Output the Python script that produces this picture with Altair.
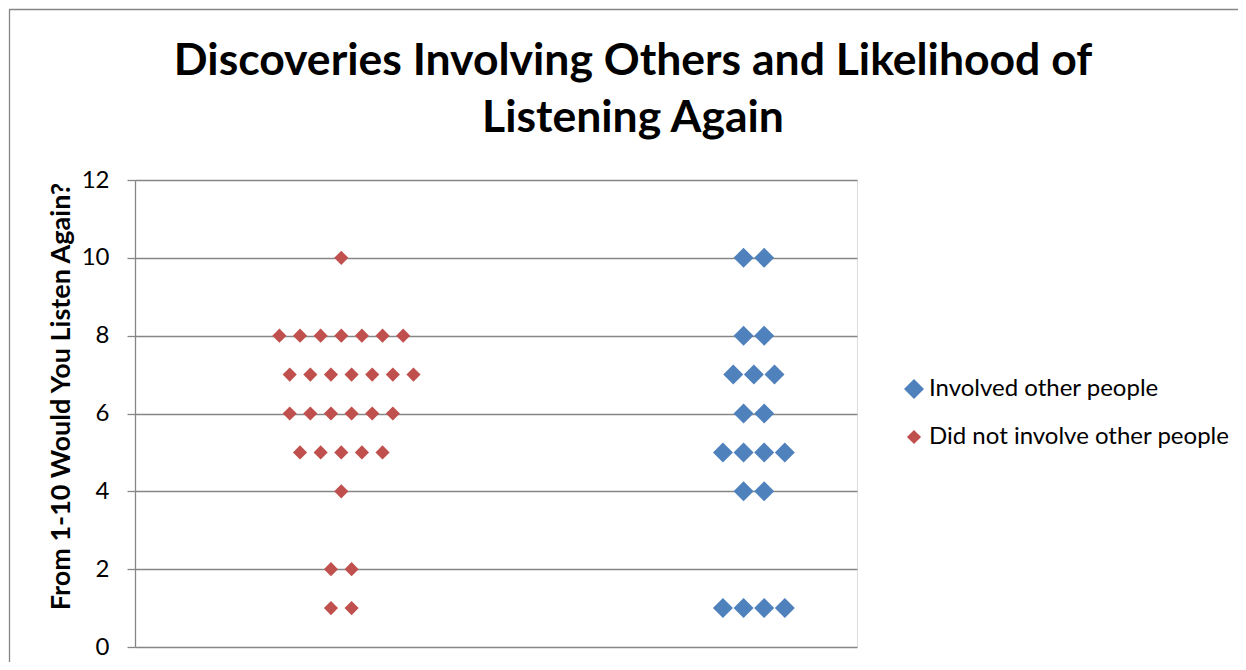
import altair as alt
import pandas as pd

# Series values (x = category position with small horizontal offsets)
involved_x = [2.95, 3.05,
              2.95, 3.05,
              2.9, 3.0, 3.1,
              2.95, 3.05,
              2.85, 2.95, 3.05, 3.15,
              2.95, 3.05,
              2.85, 2.95, 3.05, 3.15]
involved_y = [10, 10,
              8, 8,
              7, 7, 7,
              6, 6,
              5, 5, 5, 5,
              4, 4,
              1, 1, 1, 1]

not_involved_x = [1.0,
                  0.7, 0.8, 0.9, 1.0, 1.1, 1.2, 1.3,
                  0.75, 0.85, 0.95, 1.05, 1.15, 1.25, 1.35,
                  0.75, 0.85, 0.95, 1.05, 1.15, 1.25,
                  0.8, 0.9, 1.0, 1.1, 1.2,
                  1.0,
                  0.95, 1.05,
                  0.95, 1.05]
not_involved_y = [10,
                  8, 8, 8, 8, 8, 8, 8,
                  7, 7, 7, 7, 7, 7, 7,
                  6, 6, 6, 6, 6, 6,
                  5, 5, 5, 5, 5,
                  4,
                  2, 2,
                  1, 1]

series_names = ["Involved other people", "Did not involve other people"]
series_colors = ["#4F81BD", "#C0504D"]
y_ticks = [0, 2, 4, 6, 8, 10, 12]

df = pd.concat([
    pd.DataFrame({"x": involved_x, "y": involved_y, "series": series_names[0]}),
    pd.DataFrame({"x": not_involved_x, "y": not_involved_y, "series": series_names[1]}),
], ignore_index=True)

FONT = "Lato"
PLOT_W, PLOT_H = 722, 467
PAD_L, PAD_T = 127, 172
TOTAL_W, TOTAL_H = 1230, 654

points = alt.Chart(df).mark_point(shape="diamond", filled=True, opacity=1).encode(
    x=alt.X("x:Q", scale=alt.Scale(domain=[0, 3.5], nice=False),
            axis=alt.Axis(labels=False, ticks=False, domain=False, grid=False, title=None)),
    y=alt.Y("y:Q", scale=alt.Scale(domain=[0, 12], nice=False),
            axis=alt.Axis(values=y_ticks, title="From 1-10 Would You Listen Again?",
                          grid=True, gridColor="#868686", gridWidth=1.3,
                          domainColor="#868686", domainWidth=1.3,
                          tickColor="#868686", tickSize=8, tickWidth=1.3,
                          labelFont=FONT, labelFontSize=24, labelColor="#000000",
                          labelPadding=18,
                          titleFont=FONT, titleFontSize=27, titleFontWeight="bold",
                          titleColor="#000000", titlePadding=6, titleY=216)),
    color=alt.Color("series:N", scale=alt.Scale(domain=series_names, range=series_colors),
                    legend=alt.Legend(title=None, orient="none", legendX=767, legendY=197,
                                      symbolType="diamond", symbolSize=170,
                                      labelFont=FONT, labelFontSize=24, labelColor="#000000",
                                      labelLimit=500, rowPadding=24, labelOffset=3)),
    size=alt.Size("series:O", scale=alt.Scale(domain=series_names, range=[400, 200]), legend=None),
)

# chart-area frame: only the top and left edges fall inside the picture
frame_src = pd.DataFrame({"a": [0]})
frame_top = alt.Chart(frame_src).mark_rule(stroke="#868686", strokeWidth=1.3).encode(
    x=alt.value(-126), x2=alt.value(1400), y=alt.value(-170.5)
)
frame_left = alt.Chart(frame_src).mark_rule(stroke="#868686", strokeWidth=1.3).encode(
    x=alt.value(-125.5), y=alt.value(-171), y2=alt.value(800)
)

chart = alt.layer(frame_top, frame_left, points).properties(
    width=PLOT_W, height=PLOT_H,
    autosize=alt.AutoSizeParams(type="none"),
    padding={"left": PAD_L, "top": PAD_T, "right": TOTAL_W - PAD_L - PLOT_W,
             "bottom": TOTAL_H - PAD_T - PLOT_H},
    title=alt.TitleParams(
        text=["Discoveries Involving Others and Likelihood of", "Listening Again"],
        font=FONT, fontSize=44.5, fontWeight="bold", color="#000000",
        anchor="middle", frame="group", dx=137, offset=0, dy=133, lineHeight=57,
    ),
).configure_view(stroke=None).configure(background="white")

chart.save("out.html", embed_options={"renderer": "svg", "actions": False})
